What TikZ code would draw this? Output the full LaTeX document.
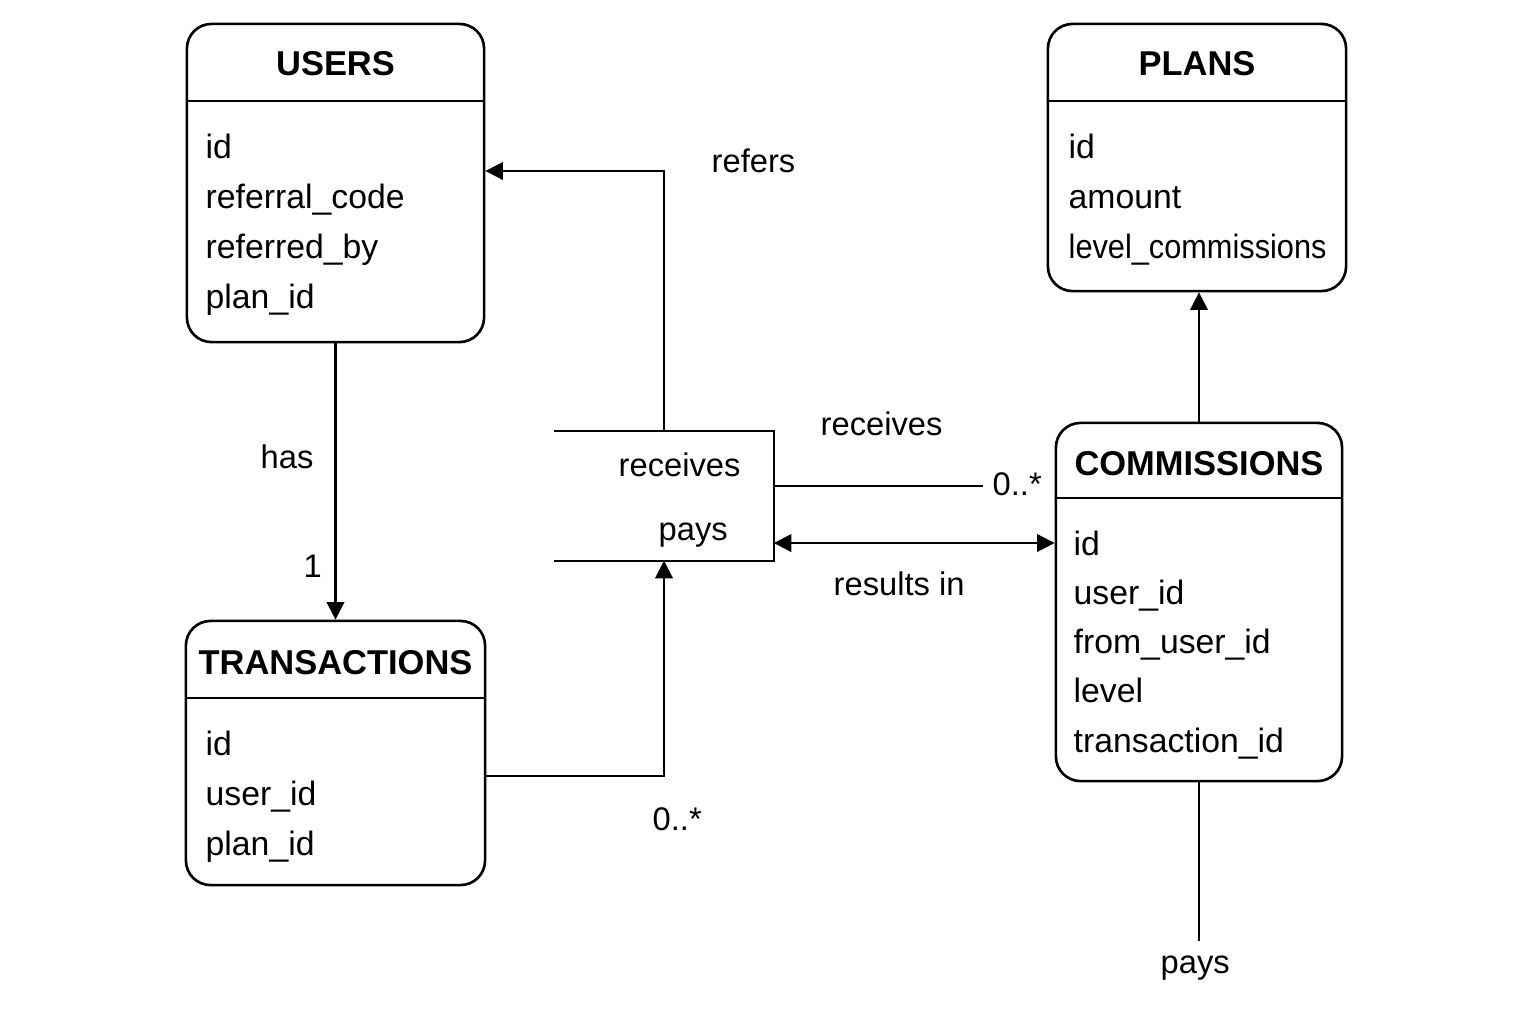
\documentclass[tikz,border=0pt]{standalone}
\usepackage{fontspec}
\setmainfont{Liberation Sans}
\usetikzlibrary{arrows.meta,positioning}
\tikzset{table/.style={
            draw,
            line width=0.75pt,
            rounded corners=7pt,
            inner sep=0pt
        },
        title/.style={
            font=\fontsize{9.8}{12}\selectfont\bfseries,
            anchor=base,
            inner sep=0pt
        },
        field/.style={
            font=\fontsize{9.6}{12}\selectfont,
            anchor=base west,
            inner sep=0pt
        },
        lbl/.style={
            font=\fontsize{9.3}{12}\selectfont,
            anchor=base west,
            inner sep=0pt
        },
        link/.style={
            line width=0.6pt,
            -{Triangle[length=5pt,width=5pt]}
        },
        bothlink/.style={
            line width=0.6pt,
            {Triangle[length=5pt,width=5pt]}-{Triangle[length=5pt,width=5pt]}
        },
        plain/.style={
            line width=0.6pt
        }
    }

\begin{document}
\begin{tikzpicture}[x=0.01cm,y=-0.01cm]
        \useasboundingbox (0,0) rectangle (1536,1024);
        % tables
        \node[table,minimum width=2.97cm,minimum height=3.18cm] at (335.5,183) (users) {};
        \node[table,minimum width=2.98cm,minimum height=2.67cm] at (1197,157.5) (plans) {};
        \node[table,minimum width=2.86cm,minimum height=3.58cm] at (1199,602) (commissions) {};
        \node[table,minimum width=2.99cm,minimum height=2.64cm] at (335.5,753) (transactions) {};
        \draw[line width=0.75pt] (users.west |- 0,101) -- (users.east |- 0,101);
        \draw[line width=0.75pt] (plans.west |- 0,101) -- (plans.east |- 0,101);
        \draw[line width=0.75pt] (commissions.west |- 0,498) -- (commissions.east |- 0,498);
        \draw[line width=0.75pt] (transactions.west |- 0,698) -- (transactions.east |- 0,698);
        \node[title] at (335.5,75) (users-t) {USERS};
        \node[title] at (1197,75) (plans-t) {PLANS};
        \node[title] at (1199,475) (commissions-t) {COMMISSIONS};
        \node[title] at (335.5,674) (transactions-t) {TRANSACTIONS};
        \foreach \f [count=\i] in {id,referral\_code,referred\_by,plan\_id}
            \node[field] at (205,{158+50*(\i-1)}) (users-f\i) {\f};
        \foreach \f [count=\i] in {id,amount,{\scalebox{0.91}[1]{level\_commissions}}}
            \node[field] at (1068,{158+50*(\i-1)}) (plans-f\i) {\f};
        \foreach \f [count=\i] in {id,user\_id,from\_user\_id,level,transaction\_id}
            \node[field] at (1073,{555+49.3*(\i-1)}) (commissions-f\i) {\f};
        \foreach \f [count=\i] in {id,user\_id,plan\_id}
            \node[field] at (205,{755+50*(\i-1)}) (transactions-f\i) {\f};
        % open relation box
        \node[minimum width=2.18cm,minimum height=1.28cm,inner sep=0pt] at (664,496) (rel) {};
        \draw[plain] (rel.north west) -- (rel.north east) -- (rel.south east) -- (rel.south west);
        \node[lbl] at (618,476) (rel-receives) {receives};
        \node[lbl] at (658,540) (rel-pays) {pays};
        % labels
        \node[lbl] at (711,172) (refers) {refers};
        \node[lbl] at (260,468) (has) {has};
        \node[lbl] at (303,577) (one) {1};
        \node[lbl] at (652,830) (tcard) {0..*};
        \node[lbl] at (820,435) (receives) {receives};
        \node[lbl] at (992,495) (rcard) {0..*};
        \node[lbl] at (833,595) (results) {results in};
        \node[lbl] at (1160,973) (cpays) {pays};
        % connectors
        \draw[link] (rel.north) |- ([yshift=0.12cm]users.east);
        \draw[link] (users.south) -- (transactions.north);
        \draw[link] ([yshift=-0.23cm]transactions.east) -| (rel.south);
        \draw[plain] ([yshift=0.1cm]rel.east) coordinate (r1) -- ([xshift=-0.09cm]rcard.west |- r1);
        \draw[bothlink] ([yshift=-0.47cm]rel.east) coordinate (r2) -- (r2 -| commissions.west);
        \draw[link] (commissions.north) -- (commissions.north |- plans.south);
        \draw[plain,shorten >=0.14cm] (commissions.south) -- (commissions.south |- cpays.north);
    \end{tikzpicture}
\end{document}
